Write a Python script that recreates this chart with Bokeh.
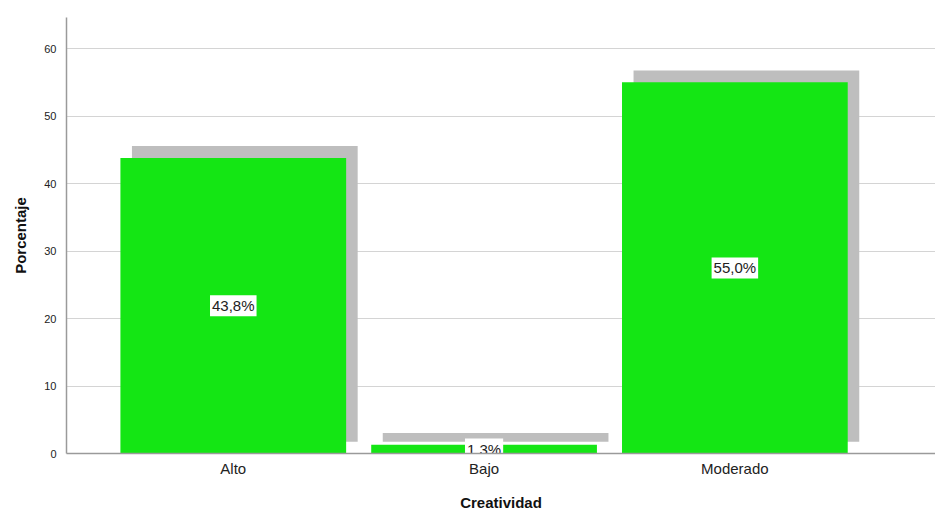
from bokeh.plotting import figure
from bokeh.models import ColumnDataSource, FixedTicker, Range1d
from bokeh.core.properties import value
from bokeh.embed import file_html
from bokeh.resources import INLINE

# Frequency distribution of creativity levels (percent)
categories = ["Alto", "Bajo", "Moderado"]
percentages = [43.8, 1.3, 55.0]
y_ticks = [0, 10, 20, 30, 40, 50, 60]

GREEN = "#14E614"
SHADOW = "#BEBEBE"
SHADOW_DX = 0.046   # drop-shadow offset along x (category units)
SHADOW_DY = 1.75    # drop-shadow offset along y (percent units)

xs = list(range(len(categories)))
labels = [f"{v:.1f}%".replace(".", ",") for v in percentages]

src = ColumnDataSource(dict(
    x=xs,
    top=percentages,
    sx=[x + SHADOW_DX for x in xs],
    stop=[v + SHADOW_DY for v in percentages],
    mid=[v / 2 for v in percentages],
    label=labels,
))

p = figure(width=935, height=513, output_backend="svg", toolbar_location=None,
           x_range=Range1d(-0.665, 2.8), y_range=Range1d(0, 64.6),
           min_border_left=66, min_border_right=0, min_border_top=17,
           min_border_bottom=60)
p.outline_line_color = None
p.background_fill_color = "white"

# shadow behind each bar, then the bar itself
p.vbar(x="sx", top="stop", bottom=SHADOW_DY, width=0.9, source=src,
       fill_color=SHADOW, line_color=None)
p.vbar(x="x", top="top", bottom=0, width=0.9, source=src,
       fill_color=GREEN, line_color=None)

# value labels in white boxes at mid-height of each bar
p.text(x="x", y="mid", text="label", source=src,
       text_align="center", text_baseline="middle",
       text_font=value("Liberation Sans"), text_font_size="15px",
       text_color="#222222", padding=2,
       background_fill_color="white", background_fill_alpha=1.0,
       border_line_color=None)

# axes
p.xaxis.ticker = FixedTicker(ticks=xs)
p.xaxis.major_label_overrides = {i: c for i, c in zip(xs, categories)}
p.yaxis.ticker = FixedTicker(ticks=y_ticks)

for ax in (p.xaxis[0], p.yaxis[0]):
    ax.axis_line_color = "#9A9A9A"
    ax.axis_line_width = 1.5
    ax.major_tick_line_color = None
    ax.minor_tick_line_color = None
    ax.major_label_text_font = "Liberation Sans"
    ax.major_label_text_color = "#222222"
    ax.axis_label_text_font = "Liberation Sans"
    ax.axis_label_text_font_style = "bold"
    ax.axis_label_text_font_size = "15px"
    ax.axis_label_text_color = "#111111"

p.xaxis.major_label_text_font_size = "15px"
p.xaxis.major_label_standoff = 0
p.xaxis.axis_label = "Creatividad"
p.xaxis.axis_label_standoff = 14

p.yaxis.major_label_text_font_size = "11px"
p.yaxis.major_label_standoff = 4
p.yaxis.axis_label = "Porcentaje"
p.yaxis.axis_label_standoff = 12

p.xgrid.grid_line_color = None
p.ygrid.grid_line_color = "#D4D4D4"
p.ygrid.grid_line_width = 1

open("out.html", "w").write(file_html(p, INLINE))
